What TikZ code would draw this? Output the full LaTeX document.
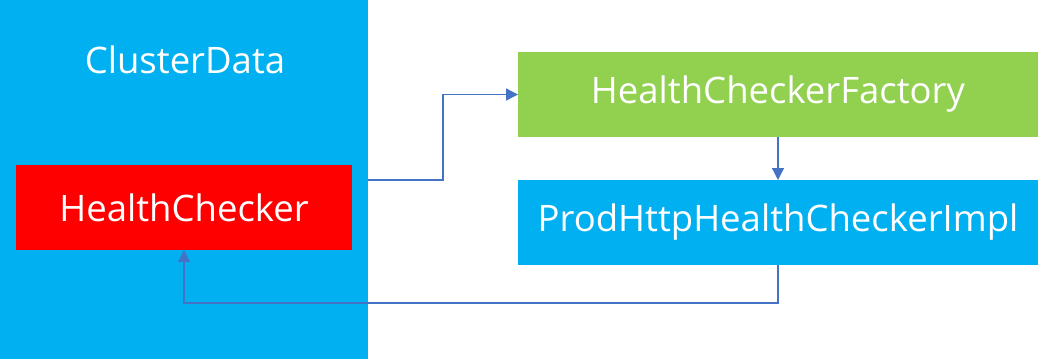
\documentclass[tikz,border=0pt]{standalone}
\usepackage{fontspec}
\setmainfont{Open Sans}
\usetikzlibrary{arrows.meta,calc}
\definecolor{cblue}{HTML}{00B0F0}
\definecolor{cred}{HTML}{FF0000}
\definecolor{cgreen}{HTML}{92D050}
\definecolor{cline}{HTML}{4472C4}
\tikzset{
  box/.style={rectangle, inner sep=0pt, outer sep=0pt, text=white, font=\fontsize{36.5}{42}\selectfont},
  conn/.style={draw=cline, line width=1.3pt, -{Triangle[length=12pt,width=12pt]}},
}
\begin{document}
\begin{tikzpicture}[x=1pt,y=-1pt]
\useasboundingbox (0,0) rectangle (1040,359);
\fill[white] (0,0) rectangle (1040,359);
\node[box, fill=cblue, anchor=north west, minimum width=368pt, minimum height=359pt] (cluster) at (0,0) {};
\node[box] (clabel) at (185,60) {ClusterData};
\node[box, fill=cred, anchor=north west, minimum width=336pt, minimum height=85pt] (checker) at (16,165) {HealthChecker};
\node[box, fill=cgreen, anchor=north west, minimum width=520pt, minimum height=85pt] (factory) at (518,52) {HealthCheckerFactory};
\node[box, fill=cblue, anchor=north west, minimum width=520pt, minimum height=85pt] (impl) at (518,180) {ProdHttpHealthCheckerImpl};
\draw[conn] (cluster.east |- impl.north) -| ($(cluster.east)!0.5!(factory.west)$) |- (factory.west);
\draw[conn] (factory.south) -- (impl.north);
\draw[conn] (impl.south) -- ++(0,38) -| (checker.south);
\end{tikzpicture}
\end{document}
